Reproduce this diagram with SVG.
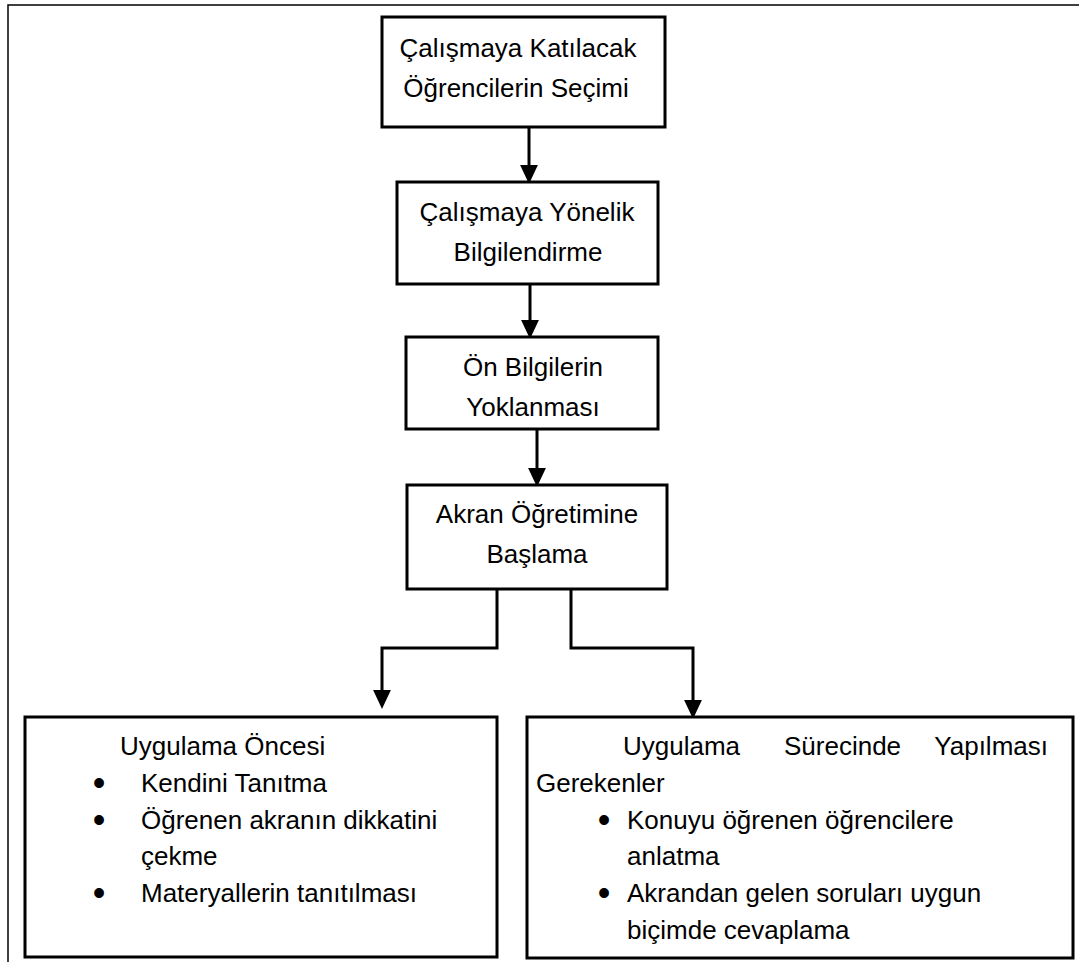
<svg xmlns="http://www.w3.org/2000/svg" width="1079" height="966" viewBox="0 0 1079 966">
<style>
.box{fill:#fff;stroke:#000;stroke-width:3}
.t{font-family:"Liberation Sans",Arial,sans-serif;font-size:26px;fill:#000}
.c{text-anchor:middle}
.b{font-family:"Liberation Sans",Arial,sans-serif;font-size:36px;fill:#000;text-anchor:middle}
.con{fill:none;stroke:#000;stroke-width:3;stroke-linejoin:miter}
.frame{fill:none;stroke:#000;stroke-width:1.5}
</style>
<defs>
<marker id="ah" markerUnits="userSpaceOnUse" markerWidth="20" markerHeight="20" viewBox="0 -9 18 18" refX="0" refY="0" orient="auto">
<path d="M0,-8 L17,0 L0,8 z" fill="#000"/>
</marker>
</defs>
<rect width="1079" height="966" fill="#fff"/>
<g id="frame">
<path class="frame" d="M1079,5 H8 V962"/>
</g>
<g id="connectors">
<path class="con" d="M529,127 V165" marker-end="url(#ah)"/>
<path class="con" d="M530,284 V320" marker-end="url(#ah)"/>
<path class="con" d="M537,429 V468" marker-end="url(#ah)"/>
<path class="con" d="M497,589 V648 H382 V690" marker-end="url(#ah)"/>
<path class="con" d="M571,589 V648 H693 V700" marker-end="url(#ah)"/>
</g>
<g id="n1">
<rect class="box" x="382" y="17" width="283" height="110"/>
<text class="t c" x="518" y="57">Çalışmaya Katılacak</text>
<text class="t c" x="516" y="97">Öğrencilerin Seçimi</text>
</g>
<g id="n2">
<rect class="box" x="397" y="182" width="261" height="102"/>
<text class="t c" x="527" y="221">Çalışmaya Yönelik</text>
<text class="t c" x="528" y="261">Bilgilendirme</text>
</g>
<g id="n3">
<rect class="box" x="406" y="337" width="252" height="92"/>
<text class="t c" x="533" y="376">Ön Bilgilerin</text>
<text class="t c" x="533" y="416">Yoklanması</text>
</g>
<g id="n4">
<rect class="box" x="407" y="485" width="260" height="104"/>
<text class="t c" x="537" y="523">Akran Öğretimine</text>
<text class="t c" x="537" y="563">Başlama</text>
</g>
<g id="n5">
<rect class="box" x="25" y="717" width="472" height="240"/>
<text class="t" x="120" y="755">Uygulama Öncesi</text>
<text class="b" x="99" y="795">•</text>
<text class="t" x="141" y="792">Kendini Tanıtma</text>
<text class="b" x="99" y="832">•</text>
<text class="t" x="141" y="829">Öğrenen akranın dikkatini</text>
<text class="t" x="141" y="865">çekme</text>
<text class="b" x="99" y="905">•</text>
<text class="t" x="141" y="902">Materyallerin tanıtılması</text>
</g>
<g id="n6">
<rect class="box" x="527" y="717" width="546" height="241"/>
<text class="t" y="755"><tspan x="623">Uygulama</tspan><tspan x="784">Sürecinde</tspan></text>
<text class="t" x="1048" y="755" text-anchor="end">Yapılması</text>
<text class="t" x="536" y="792">Gerekenler</text>
<text class="b" x="604" y="832">•</text>
<text class="t" x="627" y="829">Konuyu öğrenen öğrencilere</text>
<text class="t" x="627" y="865">anlatma</text>
<text class="b" x="604" y="905">•</text>
<text class="t" x="627" y="902">Akrandan gelen soruları uygun</text>
<text class="t" x="627" y="939">biçimde cevaplama</text>
</g>
</svg>
